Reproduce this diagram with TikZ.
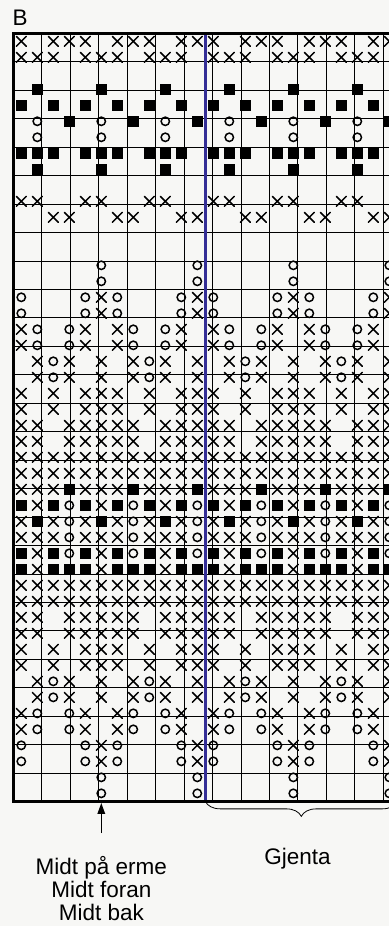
\documentclass[tikz,border=0pt]{standalone}
\usepackage{fontspec}
\setmainfont{Liberation Sans}
\usetikzlibrary{arrows.meta,decorations.pathreplacing}

\definecolor{paper}{HTML}{F7F7F5}
\definecolor{repeatblue}{RGB}{52,46,150}

\tikzset{
    stitch/.style={line width=1.5pt, line cap=round},
    gridline/.style={line width=0.8pt},
    frame/.style={line width=3pt}
}

% one symbol in cell (column, row)
\newcommand{\knitx}[2]{\draw[stitch, shift={(#1+.5,#2+.5)}] (-5pt,-5pt) -- (5pt,5pt) (-5pt,5pt) -- (5pt,-5pt);}
\newcommand{\knito}[2]{\draw[stitch, shift={(#1+.5,#2+.5)}] (0,0) circle (4.2pt);}
\newcommand{\knitb}[2]{\fill[shift={(#1+.5,#2+.5)}] (-5.5pt,-5.5pt) rectangle (5.5pt,5.5pt);}

\begin{document}
\begin{tikzpicture}[
        x=16pt, y=-16pt,
        >={Triangle[length=11pt,width=7.5pt]},
        every node/.style={font=\fontsize{22.5}{23}\selectfont, inner sep=0pt}
    ]

    \fill[paper] (-0.83,-2.08) rectangle (23.48,55.79);
    \useasboundingbox (-0.83,-2.08) rectangle (23.48,55.79);

    \begin{scope}
        \clip (0,0) rectangle (23.48,48);
        \draw[gridline] (0,0) grid (24,48);

        % Upper band and middle band, repeat of 4
        \foreach \r/\d in {0/0,0/2,0/3, 1/0,1/1,1/2, 10/0,10/1, 11/2,11/3,
                28/0,28/1,28/2, 29/1, 30/0,30/2, 31/0,31/1,31/2, 32/1, 33/1}
            \foreach \k in {0,...,5} \knitx{4*\k+\d}{\r};
        \foreach \r/\d in {3/1, 4/0,4/2, 5/3, 7/0,7/1,7/2, 8/1,
                28/3, 29/0,29/2, 30/1, 32/0,32/2, 33/0,33/2,33/3}
            \foreach \k in {0,...,5} \knitb{4*\k+\d}{\r};
        \foreach \r/\d in {5/1, 6/1, 29/3, 30/3, 31/3, 32/3}
            \foreach \k in {0,...,5} \knito{4*\k+\d}{\r};

        % Full rows
        \foreach \r in {26,27,34,35}
            \foreach \c in {0,...,23} \knitx{\c}{\r};

        % Lower motif, repeat of 6, mirrored round the middle band
        \foreach \t/\d in {16/2, 18/1,18/3, 20/0,20/2,20/4, 22/1,22/2,22/3,22/5,
                24/0,24/1,24/2,24/3,24/4}
            \foreach \r in {\t,\t+1,61-\t,60-\t}
                \foreach \k in {-1,...,3} \knitx{6*\k+3+\d}{\r};
        \foreach \t/\d in {14/2, 16/1,16/3, 18/0,18/4, 20/5}
            \foreach \r in {\t,\t+1,61-\t,60-\t}
                \foreach \k in {-1,...,3} \knito{6*\k+3+\d}{\r};
    \end{scope}

    % Repeat line and frame
    \draw[repeatblue, line width=3pt] (12,0) -- (12,48);
    \draw[frame] (24,0) -- (0,0) -- (0,48) -- (24,48);

    \node[anchor=base west] (title) at (-0.06,-0.456) {B};

    % Middle arrow
    \coordinate (tip) at (5.5,48.1);
    \coordinate (tail) at (5.5,49.98);
    \draw[->, line width=1.5pt] (tail) -- (tip);
    \node[anchor=base, align=center] (midt) at (5.5,55.42)
        {Midt på erme\\Midt foran\\Midt bak};

    % Repeat brace
    \coordinate (repL) at (12,48);
    \coordinate (repR) at (24,48);
    \draw[decorate, decoration={brace, mirror, amplitude=15pt}, line width=0.8pt]
        (repL) -- (repR);
    \node[anchor=base] (gjenta) at (17.76,51.92) {Gjenta};

\end{tikzpicture}
\end{document}
